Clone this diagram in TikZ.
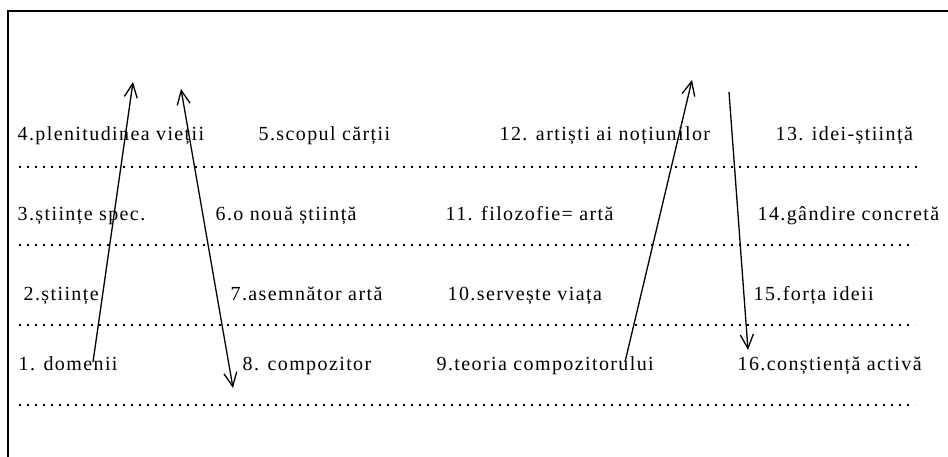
\documentclass[tikz,border=0pt]{standalone}
\usepackage{fontspec}
\setmainfont[LetterSpace=7]{Liberation Serif}
\usetikzlibrary{arrows.meta}
\newcommand\rowa{141}
\newcommand\rowb{221}
\newcommand\rowc{300}
\newcommand\rowd{370}
\newcommand\dotstart{19}
\newcommand\dotend{917}

\begin{document}
\begin{tikzpicture}[>={Straight Barb[length=14pt,width=13pt]}, x=1pt, y=-1pt, line width=1.3pt]
	\tikzstyle{every node}=[font=\fontsize{20}{22}\selectfont, anchor=base west, inner sep=0pt]
	\tikzstyle{dotline}=[line width=1.6pt, dash pattern=on 1.6pt off 6.4pt]
	\useasboundingbox (0,0) rectangle (948,457);
	
	%frame
	\draw[line width=2.2pt] (8,457) -- (8,11) -- (948,11);
	
	%row 4
	\node (n1) at (18,\rowd) {1. domenii};
	\node (n8) at (242,\rowd) {8. compozitor};
	\node (n9) at (436,\rowd) {9.teoria compozitorului};
	\node (n16) at (737,\rowd) {16.conștiență activă};
	
	%row 3
	\node (n2) at (23,\rowc) {2.științe};
	\node (n7) at (230,\rowc) {7.asemnător artă};
	\node (n10) at (447,\rowc) {10.servește viața};
	\node (n15) at (753,\rowc) {15.forța ideii};
	
	%row 2
	\node (n3) at (17,\rowb) {3.științe spec.};
	\node (n6) at (215,\rowb) {6.o nouă știință};
	\node (n11) at (445,\rowb) {11. filozofie= artă};
	\node (n14) at (757,\rowb) {14.gândire concretă};
	
	%row 1
	\node (n4) at (17,\rowa) {4.plenitudinea vieții};
	\node (n5) at (258,\rowa) {5.scopul cărții};
	\node (n12) at (499,\rowa) {12. artiști ai noțiunilor};
	\node (n13) at (775,\rowa) {13. idei-știință};
	
	%dotted lines
	\foreach \y/\e in {167/\dotend, 245/915, 325/915, 405/915}
		\draw[dotline] (\dotstart,\y) -- (\e,\y);
	
	%arrow ends
	\coordinate (a1s) at (93,362);
	\coordinate (a1e) at (133,82);
	\coordinate (a2s) at (181,89);
	\coordinate (a2e) at (233,388);
	\coordinate (a3s) at (625,362);
	\coordinate (a3e) at (692,80);
	\coordinate (a4s) at (729,92);
	\coordinate (a4e) at (748,350);
	
	%arrows
	\draw[->] (a1s) -- (a1e);
	\draw[<->] (a2s) -- (a2e);
	\draw[->] (a3s) -- (a3e);
	\draw[->] (a4s) -- (a4e);
\end{tikzpicture}
\end{document}
